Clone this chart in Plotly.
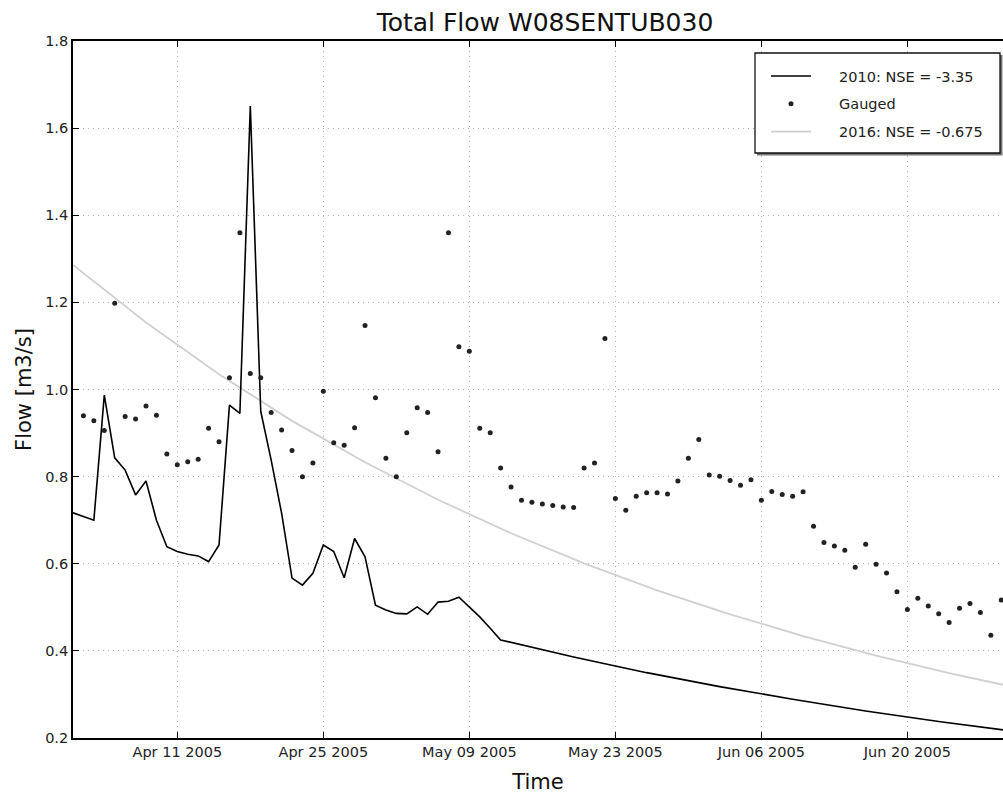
import pandas as pd
import plotly.graph_objects as go

# ---------------- data ----------------
gauged_start = "2005-04-02"
gauged_flow = [
    0.940, 0.928, 0.906, 1.198, 0.938, 0.932, 0.962, 0.941, 0.852, 0.827,   # Apr 2-11
    0.834, 0.840, 0.911, 0.880, 1.027, 1.360, 1.037, 1.027, 0.947, 0.907,   # Apr 12-21
    0.860, 0.800, 0.831, 0.996, 0.878, 0.872, 0.912, 1.147, 0.981,          # Apr 22-30
    0.842, 0.800, 0.901, 0.958, 0.947, 0.857, 1.360, 1.098, 1.088, 0.911,   # May 1-10
    0.901, 0.820, 0.776, 0.746, 0.741, 0.737, 0.734, 0.730, 0.729, 0.820,   # May 11-20
    0.831, 1.117, 0.750, 0.723, 0.755, 0.763, 0.763, 0.760, 0.790, 0.842,   # May 21-30
    0.885,                                                                  # May 31
    0.804, 0.801, 0.791, 0.780, 0.793, 0.746, 0.766, 0.759, 0.755, 0.765,   # Jun 1-10
    0.686, 0.649, 0.641, 0.631, 0.592, 0.645, 0.599, 0.579, 0.536, 0.495,   # Jun 11-20
    0.521, 0.503, 0.485, 0.465, 0.498, 0.509, 0.488, 0.436, 0.517,          # Jun 21-29
]

sim2010_daily_start = "2005-04-01"
sim2010_daily_flow = [
    0.717, 0.708, 0.700, 0.987, 0.843, 0.815, 0.758, 0.790, 0.700, 0.639,   # Apr 1-10
    0.628, 0.622, 0.618, 0.605, 0.643, 0.964, 0.945, 1.651, 0.950, 0.838,   # Apr 11-20
    0.716, 0.567, 0.551, 0.578, 0.643, 0.628, 0.568, 0.658, 0.616, 0.505,   # Apr 21-30
    0.494, 0.486, 0.485, 0.501, 0.484, 0.512, 0.514, 0.523, 0.501, 0.478,   # May 1-10
    0.452, 0.425,                                                           # May 11-12
]
sim2010_tail_dates = ["2005-05-19", "2005-05-26", "2005-06-02", "2005-06-09",
                      "2005-06-16", "2005-06-23", "2005-06-30"]
sim2010_tail_flow = [0.386, 0.350, 0.318, 0.289, 0.262, 0.238, 0.216]

sim2016_dates = ["2005-04-01", "2005-04-08", "2005-04-15", "2005-04-22", "2005-04-29",
                 "2005-05-06", "2005-05-13", "2005-05-20", "2005-05-27", "2005-06-03",
                 "2005-06-10", "2005-06-17", "2005-06-24", "2005-06-30"]
sim2016_flow = [1.286, 1.154, 1.035, 0.928, 0.833, 0.747, 0.670, 0.601, 0.539, 0.484,
                0.434, 0.389, 0.349, 0.318]

tick_dates = ["2005-04-11", "2005-04-25", "2005-05-09", "2005-05-23", "2005-06-06", "2005-06-20"]
tick_labels = ["Apr 11 2005", "Apr 25 2005", "May 09 2005", "May 23 2005", "Jun 06 2005", "Jun 20 2005"]
y_ticks = [0.2, 0.4, 0.6, 0.8, 1.0, 1.2, 1.4, 1.6, 1.8]

name_2010 = "2010: NSE = -3.35"
name_gauged = "Gauged"
name_2016 = "2016: NSE = -0.675"

# ---------------- build ----------------
gauged_dates = pd.date_range(gauged_start, periods=len(gauged_flow), freq="D")
sim2010_dates = list(pd.date_range(sim2010_daily_start, periods=len(sim2010_daily_flow), freq="D")) \
    + list(pd.to_datetime(sim2010_tail_dates))
sim2010_flow = sim2010_daily_flow + sim2010_tail_flow

FONT = "DejaVu Sans, Liberation Sans, sans-serif"
PAD = "\u00a0" * 5  # gap between legend sample and legend text

fig = go.Figure()
fig.add_trace(go.Scatter(
    x=sim2016_dates, y=sim2016_flow, mode="lines", name=PAD + name_2016,
    line=dict(color="#d0d0d0", width=1.8), legendrank=3, legendgroup="c"))
fig.add_trace(go.Scatter(
    x=sim2010_dates, y=sim2010_flow, mode="lines", name=PAD + name_2010,
    line=dict(color="#000000", width=1.6), legendrank=1, legendgroup="a"))
fig.add_trace(go.Scatter(
    x=gauged_dates, y=gauged_flow, mode="markers", name=PAD + name_gauged,
    marker=dict(color="#222222", size=5), legendrank=2, legendgroup="b"))

# plot area in pixels: x 73..1003, y 41..738
def px(xp):
    return (xp - 73) / 930.0

def py(yp):
    return (738 - yp) / 697.0

shapes = [
    # legend shadow
    dict(type="rect", xref="paper", yref="paper", layer="above",
         x0=px(757), x1=px(1002.5), y0=py(155.5), y1=py(55),
         fillcolor="#777777", line=dict(width=0)),
    # legend box
    dict(type="rect", xref="paper", yref="paper", layer="above",
         x0=px(755), x1=px(1000), y0=py(153), y1=py(53),
         fillcolor="white", line=dict(color="#111111", width=1.3)),
]

fig.update_layout(
    width=1003, height=796,
    margin=dict(l=73, r=0, t=41, b=58),
    paper_bgcolor="white", plot_bgcolor="white",
    font=dict(family=FONT, size=14.5, color="#222222"),
    title=dict(text="Total Flow W08SENTUB030", font=dict(size=25, color="#111111"),
               x=0.5075, xref="paper", xanchor="center",
               y=1 - 22 / 796, yref="container", yanchor="middle"),
    legend=dict(x=px(766), xanchor="left", y=py(60), yanchor="top",
                bgcolor="rgba(0,0,0,0)", borderwidth=0,
                font=dict(size=14.5, color="#222222"), itemwidth=40,
                tracegroupgap=6, traceorder="grouped"),
    showlegend=True,
    shapes=shapes,
)

grid_style = dict(showgrid=True, gridcolor="#b0b0b0", gridwidth=1, griddash="1px,4px")

fig.update_xaxes(
    type="date", range=["2005-04-01 00:00", "2005-06-29 04:00"],
    tickvals=tick_dates, ticktext=tick_labels,
    ticks="inside", ticklen=6, tickwidth=1, tickcolor="black",
    showline=True, linecolor="black", linewidth=1.8, mirror="ticks",
    zeroline=False, **grid_style,
    tickfont=dict(size=14.5, color="#222222"),
    title=dict(text="Time", font=dict(size=21, color="#111111"), standoff=15),
)
fig.update_yaxes(
    range=[0.2, 1.8], tickvals=y_ticks, tickformat=".1f",
    ticks="inside", ticklen=6, tickwidth=1, tickcolor="black",
    showline=True, linecolor="black", linewidth=1.8, mirror=False,
    zeroline=False, **grid_style,
    tickfont=dict(size=14.5, color="#222222"),
    title=dict(text="Flow [m3/s]", font=dict(size=21, color="#111111"), standoff=8),
)

fig.write_html(
    "out.html",
    config={"displayModeBar": False},
    post_script="document.body.style.margin='0px';document.body.style.overflow='hidden';",
)
